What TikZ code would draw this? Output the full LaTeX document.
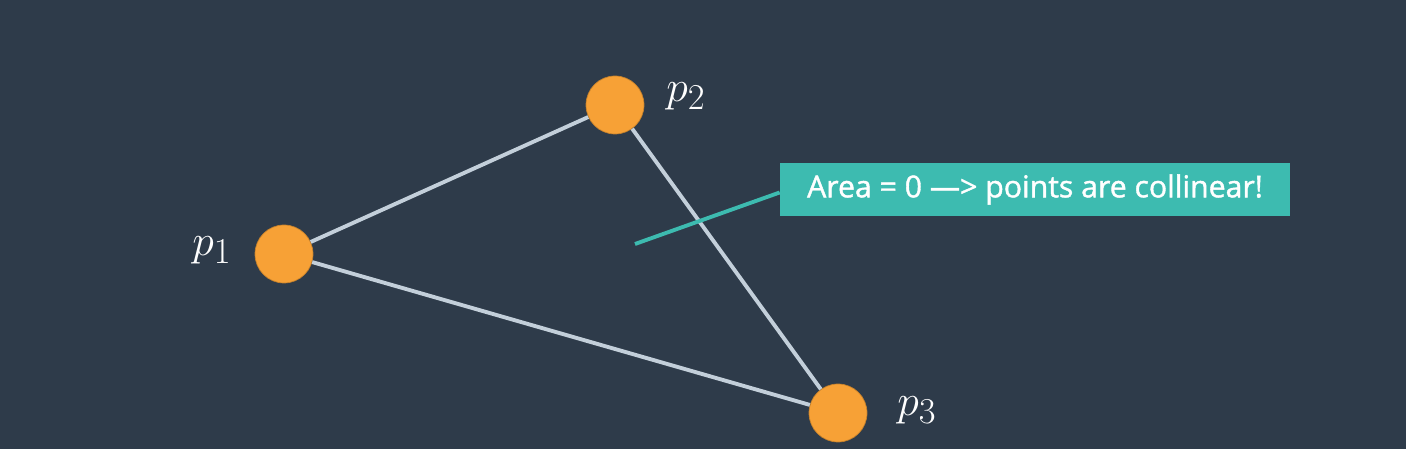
\documentclass[tikz,border=0pt]{standalone}
\usepackage{fontspec}
\newfontfamily\notefont{Open Sans}[FakeBold=1.3]
\usepackage{tikz}
\definecolor{slate}{HTML}{2E3B4A}
\definecolor{dotorange}{HTML}{F7A136}
\definecolor{edgegray}{HTML}{C3CFDA}
\definecolor{noteteal}{HTML}{3DBBB0}

\begin{document}
\begin{tikzpicture}[x=1cm, y=1cm]
\fill[slate] (0,0) rectangle (28.12,8.98);

\node[draw=dotorange!80!black, circle, fill=dotorange, inner sep=0pt, minimum size=1.16cm] (p1) at (5.68,3.90) {};
\node[draw=dotorange!80!black, circle, fill=dotorange, inner sep=0pt, minimum size=1.16cm] (p2) at (12.30,6.88) {};
\node[draw=dotorange!80!black, circle, fill=dotorange, inner sep=0pt, minimum size=1.16cm] (p3) at (16.76,0.72) {};

\node[text=white, font=\fontsize{32}{38}\selectfont] (p1label) at (4.24,3.98) {$p_1$};
\node[text=white, font=\fontsize{32}{38}\selectfont] (p2label) at (13.72,7.06) {$p_2$};
\node[text=white, font=\fontsize{32}{38}\selectfont] (p3label) at (18.34,0.78) {$p_3$};

\draw[edgegray, line width=2.2pt] (p1) -- (p2);
\draw[edgegray, line width=2.2pt] (p2) -- (p3);
\draw[edgegray, line width=2.2pt] (p1) -- (p3);

%\node[fill=noteteal, minimum width=10.2cm, minimum height=1.06cm] (note) at (20.70,5.19) {};
\node[fill=noteteal, text=white, inner sep=0pt, minimum width=10.2cm, minimum height=1.06cm, font=\notefont\fontsize{17.2}{21}\selectfont] (note) at (20.70,5.19) {Area = 0 —> points are collinear!};
\coordinate (notetip) at (12.70,4.10);
\draw[noteteal, line width=2.2pt] (notetip) -- ([yshift=-0.06cm]note.west);

\end{tikzpicture}
\end{document}
